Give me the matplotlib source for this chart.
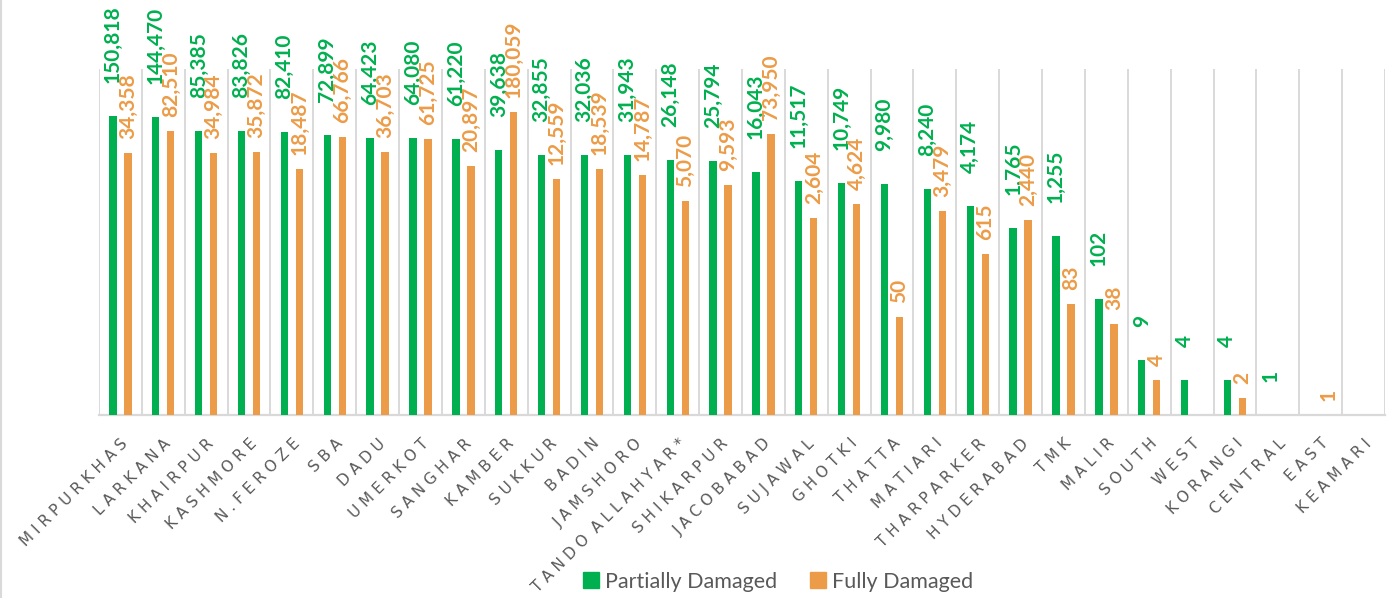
import numpy as np
import matplotlib.pyplot as plt
from matplotlib.patches import Patch

# District-wise housing damage
categories = ["MIRPURKHAS", "LARKANA", "KHAIRPUR", "KASHMORE", "N.FEROZE", "SBA", "DADU",
              "UMERKOT", "SANGHAR", "KAMBER", "SUKKUR", "BADIN", "JAMSHORO", "TANDO ALLAHYAR*",
              "SHIKARPUR", "JACOBABAD", "SUJAWAL", "GHOTKI", "THATTA", "MATIARI", "THARPARKER",
              "HYDERABAD", "TMK", "MALIR", "SOUTH", "WEST", "KORANGI", "CENTRAL", "EAST", "KEAMARI"]

partially = [150818, 144470, 85385, 83826, 82410, 72899, 64423, 64080, 61220, 39638,
             32855, 32036, 31943, 26148, 25794, 16043, 11517, 10749, 9980, 8240,
             4174, 1765, 1255, 102, 9, 4, 4, 1, np.nan, np.nan]

fully = [34358, 82510, 34984, 35872, 18487, 66766, 36703, 61725, 20897, 180059,
         12559, 18539, 14787, 5070, 9593, 73950, 2604, 4624, 50, 3479,
         615, 2440, 83, 38, 4, np.nan, 2, np.nan, 1, np.nan]

GREEN = "#00B050"
ORANGE = "#EC9C48"
GREY = "#595959"
GRID = "#D9D9D9"

fig = plt.figure(figsize=(13.92, 5.98), dpi=100)
ax = fig.add_axes([99 / 1392, 1 - 415 / 598, (1385 - 99) / 1392, (415 - 69) / 598])

x = np.arange(len(categories))
off = 0.175
w = 0.17

ax.set_yscale("log")
ax.bar(x - off, partially, w, color=GREEN, zorder=3)
ax.bar(x + off, fully, w, color=ORANGE, zorder=3)
ax.set_ylim(1, 1e6)
ax.set_xlim(-0.5, len(categories) - 0.5)

# data labels, rotated
for i, (p, f) in enumerate(zip(partially, fully)):
    if not np.isnan(p):
        ax.annotate(f"{int(p):,}", (i - off, p), xytext=(0, 33), textcoords="offset pixels",
                    rotation=90, ha="center", va="bottom", color=GREEN,
                    fontsize=15, fontweight="bold", family="Lato", annotation_clip=False)
    if not np.isnan(f):
        ax.annotate(f"{int(f):,}", (i + off, f), xytext=(0, 14), textcoords="offset pixels",
                    rotation=90, ha="center", va="bottom", color=ORANGE,
                    fontsize=15, fontweight="bold", family="Lato", annotation_clip=False)

# vertical separators between categories
for b in np.arange(len(categories) + 1) - 0.5:
    ax.axvline(b, color=GRID, lw=1.4, zorder=1)

for s in ["top", "left", "right"]:
    ax.spines[s].set_visible(False)
ax.spines["bottom"].set_color(GRID)
ax.spines["bottom"].set_linewidth(1.6)

ax.set_yticks([])
ax.minorticks_off()
ax.set_xticks(x)
# letter-spaced labels like the original
spaced = ["  ".join(" ".join(word) for word in c.split(" ")) for c in categories]
ax.set_xticklabels(spaced, rotation=45, ha="right", va="top", rotation_mode="anchor",
                   fontsize=11, color=GREY)
ax.tick_params(axis="x", length=0, pad=15)
ax.tick_params(axis="y", which="both", length=0)

handles = [Patch(color=GREEN, label="Partially Damaged"), Patch(color=ORANGE, label="Fully Damaged")]
leg = fig.legend(handles=handles, loc="center", bbox_to_anchor=(0.559, 0.027), ncol=2,
                 frameon=False, handlelength=0.75, handleheight=0.75, handletextpad=0.3,
                 columnspacing=1.5, prop={"family": "Lato", "size": 15.5})
for t in leg.get_texts():
    t.set_color(GREY)

# chart border on the left edge
fig.add_artist(plt.Line2D([0.001, 0.001], [0, 1], color=GRID, lw=1.5, transform=fig.transFigure))

fig.savefig("out.png", dpi=100)
